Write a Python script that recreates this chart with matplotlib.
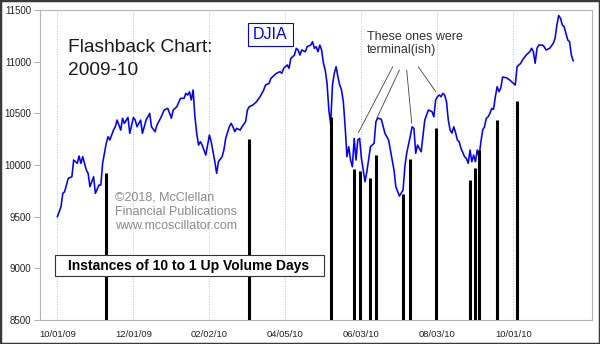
import numpy as np
import matplotlib
matplotlib.use('Agg')
import matplotlib.pyplot as plt
from matplotlib.patches import Rectangle

plt.rcParams['font.family'] = ['Liberation Sans', 'DejaVu Sans']

# DJIA daily close, x = trading days since 10/01/09
djia_day = [0, 2, 3, 4, 6, 8, 9, 11, 12, 13, 14, 16, 17, 18, 20, 21, 23, 24, 25, 27,
            28, 29, 31, 32, 33, 35, 36, 37, 39, 40, 42, 43, 44, 46, 47, 49, 51, 52, 54, 55,
            57, 59, 61, 63, 64, 66, 68, 70, 71, 72, 73, 74, 75, 76, 77, 78, 79, 80, 82, 83,
            84, 85, 87, 88, 89, 91, 92, 93, 95, 96, 97, 98, 99, 101, 102, 104, 105, 106, 108, 110,
            112, 114, 115, 117, 118, 119, 121, 123, 124, 125, 127, 128, 129, 131, 132, 133, 134, 135, 137, 138,
            140, 141, 142, 143, 144, 145, 146, 147, 148, 149, 150, 151, 152, 153, 154, 155, 156, 157, 158, 159,
            160, 161, 162, 163, 164, 165, 166, 167, 168, 170, 171, 173, 175, 176, 177, 179, 181, 183, 184, 186,
            187, 189, 191, 192, 193, 195, 196, 197, 198, 199, 201, 203, 205, 207, 208, 209, 210, 211, 212, 213,
            214, 215, 216, 217, 218, 219, 220, 221, 222, 223, 225, 226, 227, 228, 229, 230, 231, 232, 233, 234,
            235, 236, 237, 238, 239, 240, 241, 242, 243, 244, 245, 246, 248, 250, 252, 253, 254, 256, 257, 259,
            261, 262, 263, 264, 265, 266, 268, 269, 270, 272, 274, 275, 276, 277, 278, 279, 280, 281, 282, 283,
            284, 285]
djia_close = [9499, 9596, 9726, 9741, 9871, 9886, 10048, 10016, 10087, 10016, 10080, 9951, 9919, 9790, 9886, 9726, 9806, 9806, 10016, 10210,
              10274, 10242, 10338, 10370, 10435, 10338, 10452, 10403, 10461, 10306, 10461, 10435, 10370, 10435, 10306, 10435, 10500, 10370, 10322, 10387,
              10452, 10532, 10548, 10452, 10532, 10564, 10645, 10645, 10694, 10677, 10709, 10629, 10726, 10467, 10306, 10193, 10225, 10193, 10096, 10193,
              10290, 10225, 10032, 9919, 10032, 10080, 10145, 10258, 10370, 10403, 10370, 10322, 10355, 10338, 10370, 10419, 10532, 10564, 10580, 10612,
              10661, 10726, 10774, 10790, 10839, 10854, 10887, 10903, 10887, 10936, 10968, 10936, 11032, 11064, 11129, 11113, 11064, 11113, 11096, 11145,
              11161, 11193, 11129, 11145, 11096, 11161, 11113, 10984, 10919, 10790, 10532, 10396, 10774, 10887, 10951, 10854, 10774, 10726, 10612, 10370,
              10080, 10177, 10048, 9983, 10258, 10048, 10242, 10258, 10064, 9838, 9935, 10177, 10210, 10419, 10455, 10442, 10306, 10242, 10145, 9951,
              9790, 9700, 9758, 9983, 10113, 10280, 10370, 10355, 10113, 10193, 10128, 10435, 10532, 10516, 10467, 10629, 10661, 10677, 10661, 10694,
              10677, 10612, 10435, 10338, 10309, 10370, 10314, 10242, 10225, 10161, 10080, 10064, 10016, 10145, 10032, 10096, 10032, 10145, 10080, 10225,
              10338, 10370, 10452, 10467, 10500, 10548, 10539, 10661, 10758, 10709, 10745, 10851, 10845, 10822, 10790, 10774, 10951, 10984, 11016, 11064,
              11096, 11129, 11096, 10984, 11129, 11161, 11161, 11145, 11113, 11129, 11178, 11226, 11355, 11447, 11420, 11355, 11338, 11274, 11210, 11193,
              11064, 11009]

# 10-to-1 up volume days
spike_day = [27, 106, 151, 164, 167, 173, 176, 191, 195, 209, 228, 231, 233, 243, 254]
spike_level = [9925, 10251, 10467, 9958, 9944, 9871, 10096, 9722, 10058, 10355, 9851, 9968, 10142, 10435, 10622]

tick_days = [0, 42, 84, 126, 168, 210, 252]
tick_labels = ['10/01/09', '12/01/09', '02/02/10', '04/05/10', '06/03/10', '08/03/10', '10/01/10']

# "terminal(ish)" pointers: (text end, target)
pointers = [((185.3, 10951), (166.3, 10312)),
            ((189.0, 10919), (176.5, 10452)),
            ((193.0, 10919), (195.8, 10403)),
            ((199.4, 10951), (209.1, 10709))]

W, H = 600, 344
def fx(px):
    return px / W
def fy(py):
    return 1 - py / H

fig = plt.figure(figsize=(6, 3.44), dpi=100)
ax = fig.add_axes([fx(40), fy(320), 552 / W, 310 / H])

ax.plot(djia_day, djia_close, color='#0000ff', lw=1.15, zorder=3)
ax.vlines(spike_day, 8500, spike_level, color='black', lw=2.2, zorder=4)

ax.set_xlim(-9.6, 295.4)
ax.set_ylim(8500, 11500)
ax.set_xticks(tick_days)
ax.set_xticklabels(tick_labels)
ax.set_yticks(np.arange(8500, 11501, 500))
ax.tick_params(axis='x', length=0, pad=7, labelsize=6.8, labelcolor='#222222')
ax.tick_params(axis='y', length=4, width=0.7, color='#b0b0b0', pad=2.4, labelsize=7, labelcolor='#222222')
ax.grid(axis='x', ls=':', color='#c0c0c0', lw=0.7)
for s in ax.spines.values():
    s.set_color('#b4b4b4')
    s.set_linewidth(0.8)

for (x0, y0), (x1, y1) in pointers:
    ax.annotate('', xy=(x1, y1), xytext=(x0, y0),
                arrowprops=dict(arrowstyle='-', color='#404040', lw=0.6, shrinkA=0, shrinkB=0))

fig.text(fx(68), fy(51.7), 'Flashback Chart:', fontsize=13.8, color='#1a1a1a', va='baseline')
fig.text(fx(68), fy(75), '2009-10', fontsize=13.8, color='#1a1a1a', va='baseline')

fig.patches.append(Rectangle((fx(248), fy(46)), 45 / W, 23 / H, transform=fig.transFigure,
                             fc='white', ec='#0000ff', lw=0.8, zorder=5))
fig.text(fx(270.5), fy(34.5), 'DJIA', fontsize=11.5, color='#0000ff', ha='center', va='center', zorder=6)

fig.text(fx(367), fy(40), 'These ones were', fontsize=9, color='#333333', va='baseline')
fig.text(fx(367), fy(53.5), 'terminal(ish)', fontsize=9, color='#333333', va='baseline')

for i, line in enumerate(['\u00a92018, McClellan', 'Financial Publications', 'www.mcoscillator.com']):
    fig.text(fx(115), fy(200.3 + 14.5 * i), line, fontsize=9, color='#8a8a8a', va='baseline')

fig.patches.append(Rectangle((fx(55), fy(276)), 269 / W, 20.7 / H, transform=fig.transFigure,
                             fc='white', ec='#333333', lw=0.8, zorder=5))
fig.text(fx(68), fy(266), 'Instances of 10 to 1 Up Volume Days', fontsize=10, fontweight='bold',
         color='black', va='center', zorder=6)

fig.patches.append(Rectangle((0, 0), 1, 1, transform=fig.transFigure, fill=False,
                             ec='#3a3a3a', lw=2.5))

fig.savefig('out.png', dpi=100)
